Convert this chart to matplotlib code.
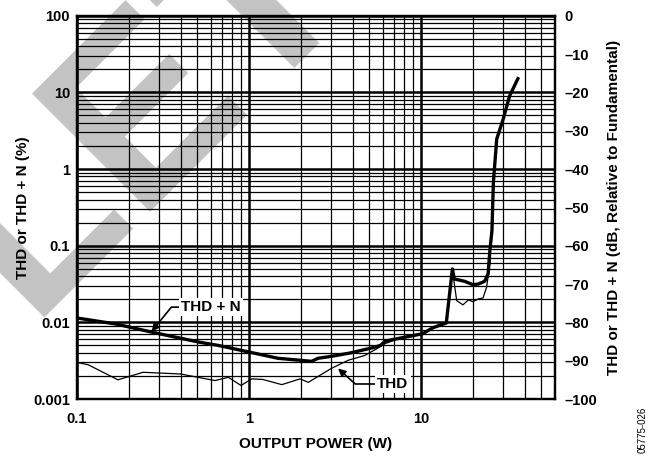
import matplotlib
matplotlib.use('Agg')
import matplotlib.pyplot as plt
from matplotlib.ticker import FixedLocator, NullFormatter, LogLocator

plt.rcParams['font.family'] = ['Liberation Sans', 'DejaVu Sans']
plt.rcParams['font.weight'] = 'bold'
plt.rcParams['axes.labelweight'] = 'bold'

# THD + N (%) against output power (W)
thdn_power = [0.1, 0.169, 0.276, 0.516, 0.663, 1.0, 1.47, 2.31, 2.52, 3.0, 3.9, 5.3,
              5.8, 6.2, 7.2, 10.2, 11.7, 14.0, 15.2, 15.6, 17.9, 20.0, 21.5, 23.4,
              24.5, 25.1, 25.8, 26.3, 27.5, 30.0, 32.7, 36.5]
thdn_pct = [0.0114, 0.0095, 0.0074, 0.0055, 0.0050, 0.0041, 0.0034, 0.0031, 0.0034,
            0.0036, 0.0040, 0.0047, 0.0050, 0.0057, 0.0061, 0.0071, 0.0085, 0.0098,
            0.0497, 0.0368, 0.0343, 0.0310, 0.0316, 0.0343, 0.0428, 0.0865, 0.157,
            0.67, 2.46, 4.49, 9.0, 15.1]

# THD (%) against output power (W)
thd_power = [0.1, 0.116, 0.173, 0.242, 0.40, 0.634, 0.758, 0.898, 1.035, 1.2, 1.55,
             1.98, 2.21, 3.0, 3.77, 4.7, 5.5, 6.2, 7.2, 10.2, 11.7, 14.0, 15.2, 16.1,
             17.5, 18.8, 20.0, 21.5, 22.9, 24.0, 24.8, 25.3]
thd_pct = [0.0030, 0.0028, 0.00178, 0.00223, 0.00212, 0.00174, 0.00192, 0.0015,
           0.00183, 0.0018, 0.00154, 0.00183, 0.00165, 0.0025, 0.0032, 0.0037, 0.0045,
           0.0053, 0.0060, 0.0071, 0.0085, 0.0098, 0.0480, 0.0192, 0.0169, 0.0196,
           0.0186, 0.0202, 0.0208, 0.0286, 0.047, 0.07]

x_ticks = [0.1, 1, 10]
x_labels = ['0.1', '1', '10']
y_ticks = [0.001, 0.01, 0.1, 1, 10, 100]
y_labels = ['0.001', '0.01', '0.1', '1', '10', '100']
db_ticks = list(range(-100, 1, 10))
db_labels = [('\u2013%d' % -v) if v < 0 else '0' for v in db_ticks]

fig = plt.figure(figsize=(6.65, 4.57), dpi=100)

# grey background stamp
fig.text(-0.0039, 0.224, 'OBSOLETE', fontsize=176, fontweight='bold', color='#c3c3c3',
         rotation=45, rotation_mode='anchor', ha='center', va='baseline', zorder=-5)

ax = fig.add_axes([0.1158, 0.1269, 0.7188, 0.8387])
ax.patch.set_visible(False)
ax.set_xscale('log')
ax.set_yscale('log')
ax.set_xlim(0.1, 60)
ax.set_ylim(0.001, 100)

ax.xaxis.set_major_locator(FixedLocator(x_ticks))
ax.set_xticklabels(x_labels)
ax.xaxis.set_minor_locator(LogLocator(base=10, subs=range(2, 10)))
ax.xaxis.set_minor_formatter(NullFormatter())
ax.yaxis.set_major_locator(FixedLocator(y_ticks))
ax.set_yticklabels(y_labels)
ax.yaxis.set_minor_locator(LogLocator(base=10, subs=range(2, 10)))
ax.yaxis.set_minor_formatter(NullFormatter())

ax.grid(which='major', color='black', lw=1.8)
ax.grid(which='minor', color='black', lw=0.9)
ax.set_axisbelow(True)
ax.tick_params(which='both', length=0, labelsize=10.5)
ax.tick_params(axis='x', pad=9)
ax.tick_params(axis='y', pad=5)
for sp in ax.spines.values():
    sp.set_linewidth(1.6)

ax.plot(thd_power, thd_pct, color='black', lw=0.9, zorder=3)
ax.plot(thdn_power, thdn_pct, color='black', lw=2.4, zorder=4, solid_joinstyle='round')

ax.set_xlabel('OUTPUT POWER (W)', fontsize=11, labelpad=8.5)
ax.set_ylabel('THD or THD + N (%)', fontsize=11, labelpad=2.5)

ax2 = ax.twinx()
ax2.patch.set_visible(False)
ax2.set_ylim(-100, 0)
ax2.set_yticks(db_ticks)
ax2.set_yticklabels(db_labels)
ax2.tick_params(length=0, labelsize=10.5, pad=7)
for sp in ax2.spines.values():
    sp.set_linewidth(1.6)
ax2.set_ylabel('THD or THD + N (dB, Relative to Fundamental)', fontsize=11, labelpad=6.5)

box = dict(fc='white', ec='none', pad=1.5)
arrow = dict(arrowstyle='-|>', color='black', lw=1.2, mutation_scale=11,
             shrinkA=0, shrinkB=0)
ax.annotate('THD + N', xy=(0.2715, 0.0076), xytext=(0.6, 0.0158), fontsize=11,
            ha='center', va='center', bbox=box, zorder=6,
            arrowprops=dict(connectionstyle='angle,angleA=0,angleB=51,rad=0', **arrow))
ax.annotate('THD', xy=(3.29, 0.0025), xytext=(6.85, 0.00157), fontsize=11,
            ha='center', va='center', bbox=box, zorder=6,
            arrowprops=dict(connectionstyle='angle,angleA=0,angleB=-42,rad=0', **arrow))

fig.text(0.966, 0.06, '05775-026', fontsize=7, fontweight='normal', rotation=90,
         ha='center', va='center')

fig.savefig('out.png', dpi=100)
